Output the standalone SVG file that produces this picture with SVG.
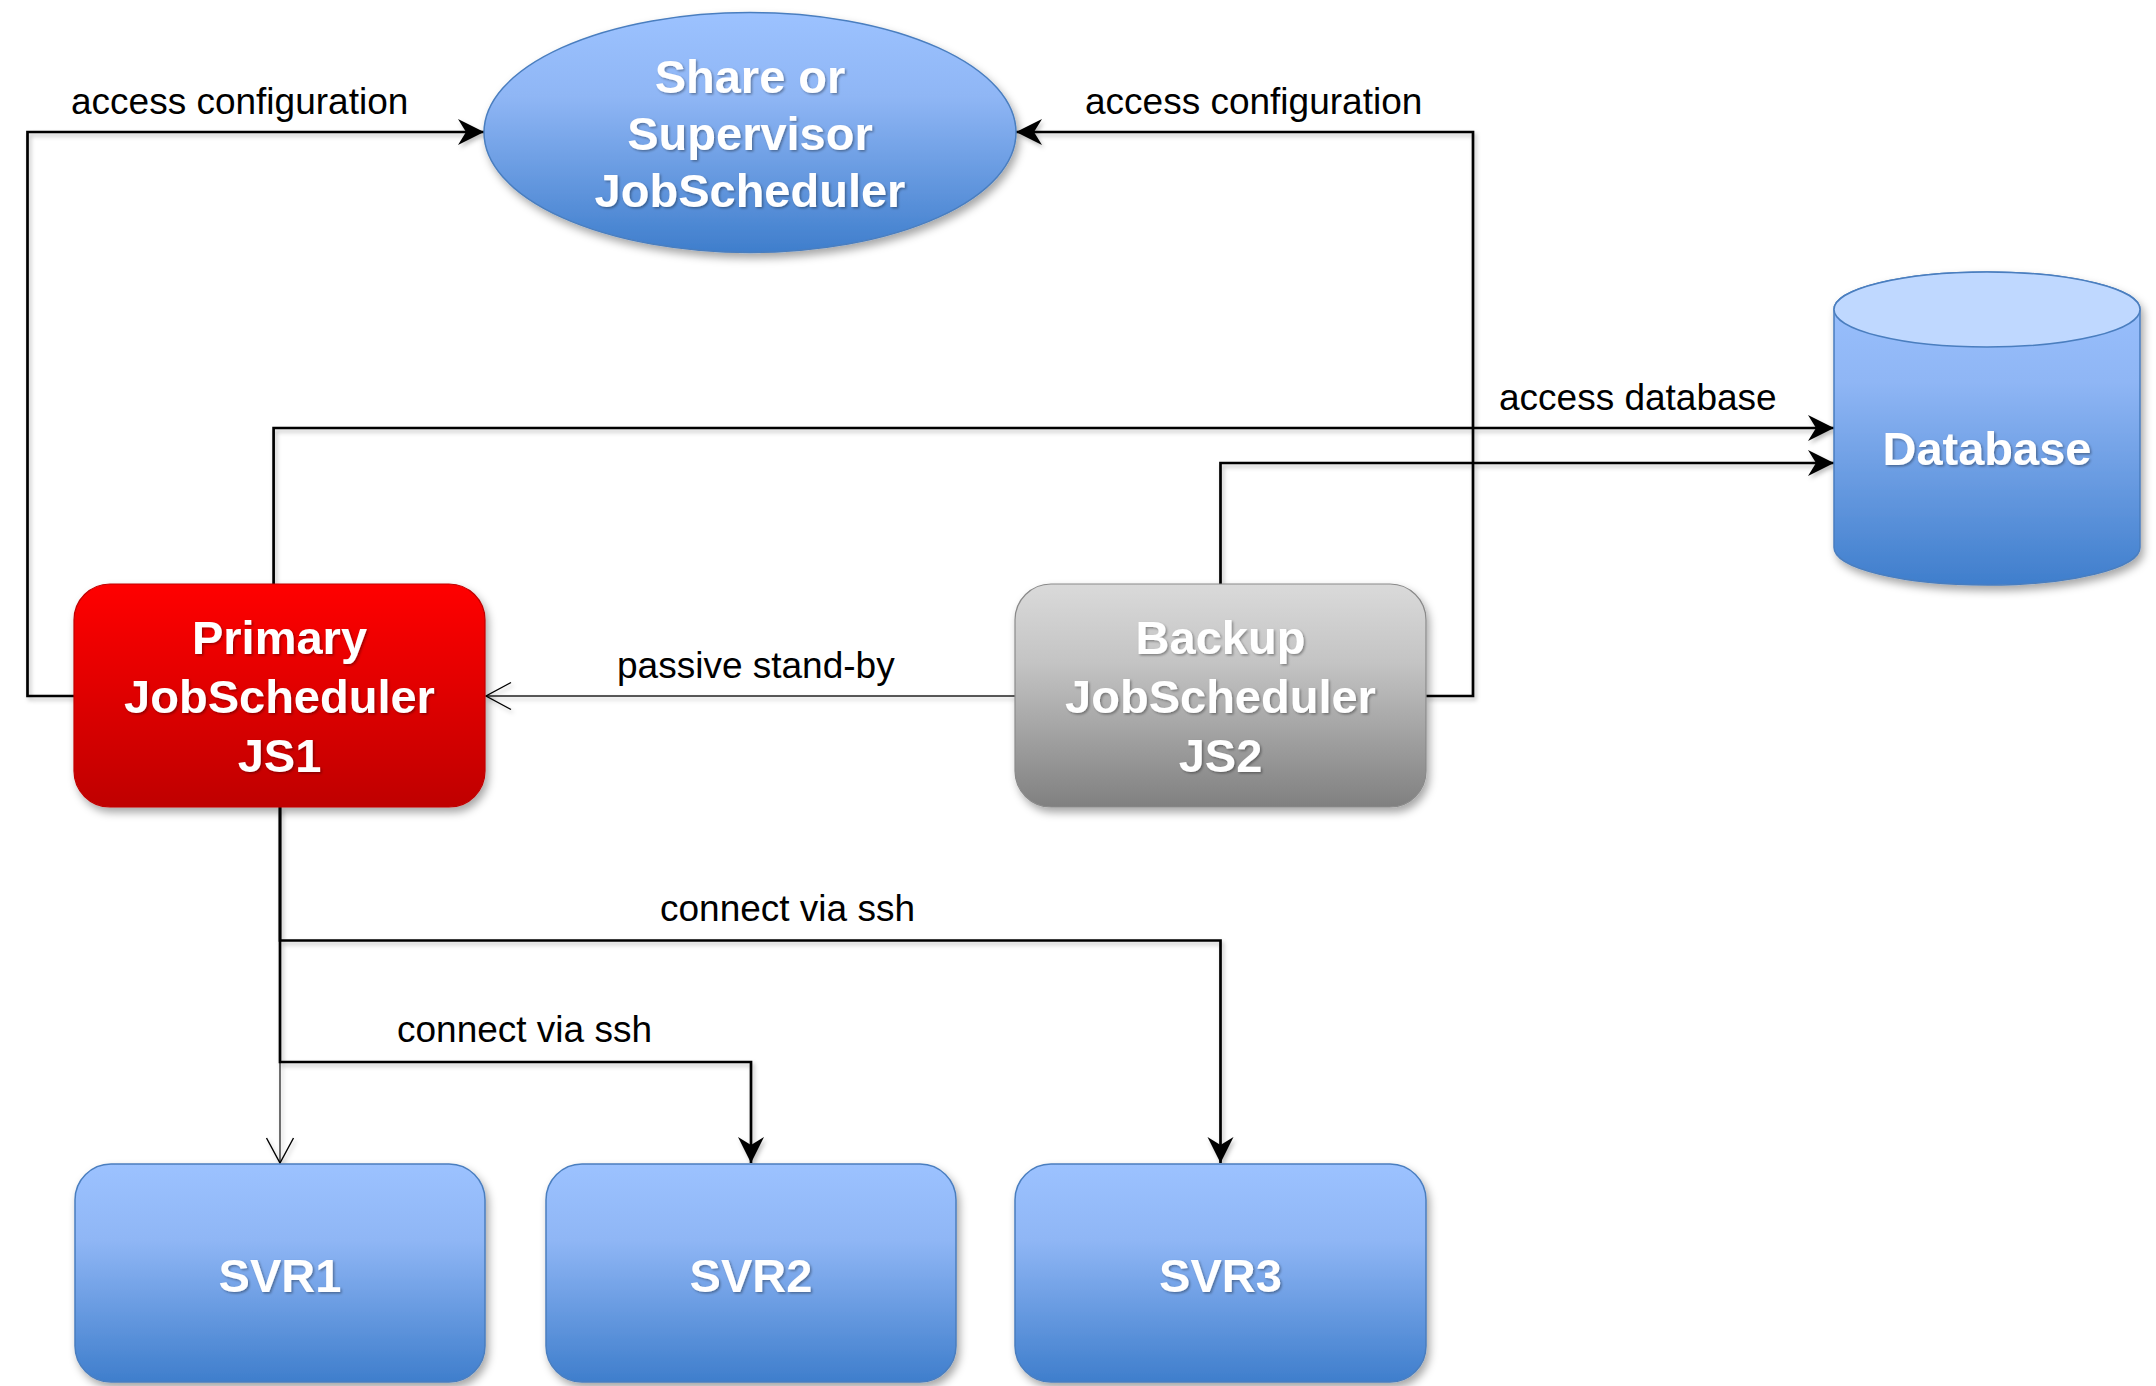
<svg xmlns="http://www.w3.org/2000/svg" width="2156" height="1386" viewBox="0 0 2156 1386">
<defs>
  <linearGradient id="gBlue" x1="0" y1="0" x2="0" y2="1">
    <stop offset="0" stop-color="#9CC2FF"/>
    <stop offset="0.35" stop-color="#8FB6F5"/>
    <stop offset="1" stop-color="#3F7ECC"/>
  </linearGradient>
  <linearGradient id="gRed" x1="0" y1="0" x2="0" y2="1">
    <stop offset="0" stop-color="#FF0000"/>
    <stop offset="1" stop-color="#BF0000"/>
  </linearGradient>
  <linearGradient id="gGrey" x1="0" y1="0" x2="0" y2="1">
    <stop offset="0" stop-color="#DADADA"/>
    <stop offset="0.35" stop-color="#C4C4C4"/>
    <stop offset="1" stop-color="#808080"/>
  </linearGradient>
  <filter id="shadow" x="-10%" y="-10%" width="125%" height="130%">
    <feDropShadow dx="3" dy="5" stdDeviation="4" flood-color="#000" flood-opacity="0.35"/>
  </filter>
  <filter id="lshadow" x="-5%" y="-5%" width="110%" height="110%">
    <feDropShadow dx="2" dy="3" stdDeviation="2" flood-color="#000" flood-opacity="0.25"/>
  </filter>
  <filter id="tshadow" x="-10%" y="-20%" width="120%" height="150%">
    <feDropShadow dx="1.5" dy="1.5" stdDeviation="1" flood-color="#000" flood-opacity="0.35"/>
  </filter>
  <marker id="arrFill" viewBox="-28 -15 30 30" refX="0" refY="0" markerWidth="30" markerHeight="30" markerUnits="userSpaceOnUse" orient="auto">
    <path d="M0,0 L-26,-13 L-18,0 L-26,13 Z" fill="#000"/>
  </marker>
  <marker id="arrOpen" viewBox="-28 -16 30 32" refX="0" refY="0" markerWidth="30" markerHeight="32" markerUnits="userSpaceOnUse" orient="auto">
    <path d="M-25,-13.5 L0,0 L-25,13.5" fill="none" stroke="#000" stroke-width="1.4"/>
  </marker>
  <style>
    .lbl { font-family: "Liberation Sans", Arial, sans-serif; font-size: 37px; fill: #000; }
    .nt { font-family: "Liberation Sans", Arial, sans-serif; font-size: 47px; font-weight: bold; fill: #FFFFFF; text-anchor: middle; filter: url(#tshadow); }
    .thick { fill: none; stroke: #000; stroke-width: 2.7; }
    .thin { fill: none; stroke: #222; stroke-width: 1.3; }
  </style>
</defs>
<rect x="0" y="0" width="2156" height="1386" fill="#FFFFFF"/>

<g id="connectors" filter="url(#lshadow)">
  <path class="thick" d="M74,696 H27.5 V132 H484" marker-end="url(#arrFill)"/>
  <path class="thick" d="M1426,696 H1473 V132 H1016" marker-end="url(#arrFill)"/>
  <path class="thick" d="M273.6,584 V428 H1834" marker-end="url(#arrFill)"/>
  <path class="thick" d="M1220.5,584 V463 H1834" marker-end="url(#arrFill)"/>
  <path class="thin" d="M1015,696 H486" marker-end="url(#arrOpen)"/>
  <path class="thin" d="M280,807 V1163" marker-end="url(#arrOpen)"/>
  <path class="thick" d="M280,807 V940.5 H1220.5 V1163" marker-end="url(#arrFill)"/>
  <path class="thick" d="M280,807 V1062 H751 V1163" marker-end="url(#arrFill)"/>
</g>

<g id="labels">
  <text class="lbl" x="71" y="114">access configuration</text>
  <text class="lbl" x="1085" y="114">access configuration</text>
  <text class="lbl" x="1499" y="410">access database</text>
  <text class="lbl" x="617" y="678">passive stand-by</text>
  <text class="lbl" x="660" y="921">connect via ssh</text>
  <text class="lbl" x="397" y="1042">connect via ssh</text>
</g>

<g id="supervisor">
  <ellipse cx="750" cy="132.5" rx="266" ry="120" fill="url(#gBlue)" stroke="#4A7EBF" stroke-width="1.5" filter="url(#shadow)"/>
  <text class="nt" x="750" y="93">Share or</text>
  <text class="nt" x="750" y="150">Supervisor</text>
  <text class="nt" x="750" y="207">JobScheduler</text>
</g>

<g id="database">
  <g filter="url(#shadow)">
    <path d="M1834,309.5 L1834,547.5 A153,37.5 0 0 0 2140,547.5 L2140,309.5 A153,37.5 0 0 0 1834,309.5 Z" fill="url(#gBlue)" stroke="#4A7EBF" stroke-width="1.5"/>
  </g>
  <ellipse cx="1987" cy="309.5" rx="153" ry="37.5" fill="#BFD8FF" stroke="#4A7EBF" stroke-width="1.5"/>
  <text class="nt" x="1987" y="465">Database</text>
</g>

<g id="js1">
  <rect x="74" y="584" width="411" height="223" rx="36" ry="36" fill="url(#gRed)" stroke="#C00000" stroke-width="1.2" filter="url(#shadow)"/>
  <text class="nt" x="279.5" y="654">Primary</text>
  <text class="nt" x="279.5" y="713">JobScheduler</text>
  <text class="nt" x="279.5" y="772">JS1</text>
</g>

<g id="js2">
  <rect x="1015" y="584" width="411" height="223" rx="36" ry="36" fill="url(#gGrey)" stroke="#8A8A8A" stroke-width="1.2" filter="url(#shadow)"/>
  <text class="nt" x="1220.5" y="654">Backup</text>
  <text class="nt" x="1220.5" y="713">JobScheduler</text>
  <text class="nt" x="1220.5" y="772">JS2</text>
</g>

<g id="svr1">
  <rect x="75" y="1164" width="410" height="218" rx="36" ry="36" fill="url(#gBlue)" stroke="#4A7EBF" stroke-width="1.5" filter="url(#shadow)"/>
  <text class="nt" x="280" y="1292">SVR1</text>
</g>
<g id="svr2">
  <rect x="546" y="1164" width="410" height="218" rx="36" ry="36" fill="url(#gBlue)" stroke="#4A7EBF" stroke-width="1.5" filter="url(#shadow)"/>
  <text class="nt" x="751" y="1292">SVR2</text>
</g>
<g id="svr3">
  <rect x="1015" y="1164" width="411" height="218" rx="36" ry="36" fill="url(#gBlue)" stroke="#4A7EBF" stroke-width="1.5" filter="url(#shadow)"/>
  <text class="nt" x="1220.5" y="1292">SVR3</text>
</g>
</svg>
